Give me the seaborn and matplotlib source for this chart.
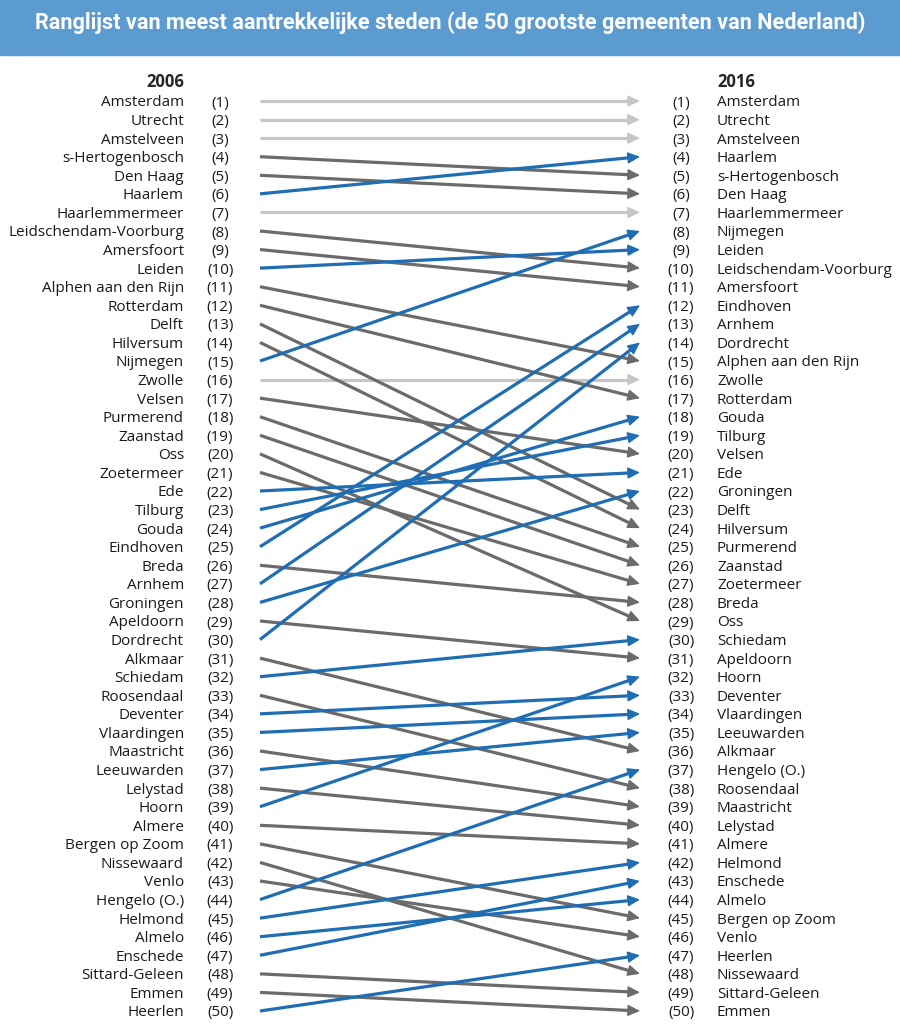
import numpy as np
import matplotlib.pyplot as plt
import pandas as pd
import seaborn as sns
from matplotlib.patches import Rectangle

titel = 'Ranglijst van meest aantrekkelijke steden (de 50 grootste gemeenten van Nederland)'
jaren = ['2006', '2016']

# ranglijst 2006 (positie = index + 1)
steden_2006 = ['Amsterdam', 'Utrecht', 'Amstelveen', 's-Hertogenbosch', 'Den Haag',
               'Haarlem', 'Haarlemmermeer', 'Leidschendam-Voorburg', 'Amersfoort', 'Leiden',
               'Alphen aan den Rijn', 'Rotterdam', 'Delft', 'Hilversum', 'Nijmegen',
               'Zwolle', 'Velsen', 'Purmerend', 'Zaanstad', 'Oss',
               'Zoetermeer', 'Ede', 'Tilburg', 'Gouda', 'Eindhoven',
               'Breda', 'Arnhem', 'Groningen', 'Apeldoorn', 'Dordrecht',
               'Alkmaar', 'Schiedam', 'Roosendaal', 'Deventer', 'Vlaardingen',
               'Maastricht', 'Leeuwarden', 'Lelystad', 'Hoorn', 'Almere',
               'Bergen op Zoom', 'Nissewaard', 'Venlo', 'Hengelo (O.)', 'Helmond',
               'Almelo', 'Enschede', 'Sittard-Geleen', 'Emmen', 'Heerlen']

# ranglijst 2016
steden_2016 = ['Amsterdam', 'Utrecht', 'Amstelveen', 'Haarlem', 's-Hertogenbosch',
               'Den Haag', 'Haarlemmermeer', 'Nijmegen', 'Leiden', 'Leidschendam-Voorburg',
               'Amersfoort', 'Eindhoven', 'Arnhem', 'Dordrecht', 'Alphen aan den Rijn',
               'Zwolle', 'Rotterdam', 'Gouda', 'Tilburg', 'Velsen',
               'Ede', 'Groningen', 'Delft', 'Hilversum', 'Purmerend',
               'Zaanstad', 'Zoetermeer', 'Breda', 'Oss', 'Schiedam',
               'Apeldoorn', 'Hoorn', 'Deventer', 'Vlaardingen', 'Leeuwarden',
               'Alkmaar', 'Hengelo (O.)', 'Roosendaal', 'Maastricht', 'Lelystad',
               'Almere', 'Helmond', 'Enschede', 'Almelo', 'Bergen op Zoom',
               'Venlo', 'Heerlen', 'Nissewaard', 'Sittard-Geleen', 'Emmen']

kleuren = {'gelijk': '#c6c6c6', 'gedaald': '#6b6b6c', 'gestegen': '#1f6db3'}
volgorde = ['gelijk', 'gedaald', 'gestegen']   # blauw bovenop tekenen

rang_2016 = {s: i + 1 for i, s in enumerate(steden_2016)}
rows = []
for i, stad in enumerate(steden_2006):
    r06 = i + 1
    r16 = rang_2016[stad]
    if r16 == r06:
        status = 'gelijk'
    elif r16 > r06:
        status = 'gedaald'
    else:
        status = 'gestegen'
    rows.append([stad, r06, r16, status])
df = pd.DataFrame(rows, columns=['stad', 'r2006', 'r2016', 'status'])

x_eind = 0.98   # schacht stopt onder de pijlpunt
start = df.assign(x=0.0, rang=df['r2006'])
eind = df.assign(x=x_eind, rang=df['r2006'] + (df['r2016'] - df['r2006']) * x_eind)
lang = pd.concat([start, eind], ignore_index=True)

sns.set_style('white')
plt.rcParams['font.family'] = ['Open Sans', 'DejaVu Sans']

W, H = 900, 1029
fig = plt.figure(figsize=(W / 100, H / 100), dpi=100)
ax = fig.add_axes([260 / W, 1 - 1011 / H, 380 / W, 910 / H])

sns.lineplot(data=lang, x='x', y='rang', hue='status', units='stad', estimator=None,
             sort=False, palette=kleuren, hue_order=volgorde, linewidth=2.3,
             legend=False, ax=ax)
for ln in ax.lines:
    ln.set_clip_on(False)
    ln.set_solid_capstyle('butt')

# pijlpunten
for status in volgorde:
    for _, r in df[df['status'] == status].iterrows():
        y0 = r['r2006'] + (r['r2016'] - r['r2006']) * 0.9
        ax.annotate('', xy=(1.0, r['r2016']), xytext=(0.9, y0),
                    arrowprops=dict(arrowstyle='-|>,head_length=0.75,head_width=0.35',
                                    color=kleuren[status], lw=1, shrinkA=0, shrinkB=0),
                    annotation_clip=False)

ax.set_xlim(0, 1)
ax.set_ylim(50, 1)
ax.axis('off')

trans = ax.get_yaxis_transform()
fs = 11
tk = '#1a1a1a'
for i, stad in enumerate(steden_2006):
    ax.text(-0.2, i + 1, stad, transform=trans, ha='right', va='center_baseline', fontsize=fs, color=tk)
    ax.text(-0.105, i + 1, '({})'.format(i + 1), transform=trans, ha='center', va='center_baseline', fontsize=fs, color=tk)
for i, stad in enumerate(steden_2016):
    ax.text(1.108, i + 1, '({})'.format(i + 1), transform=trans, ha='center', va='center_baseline', fontsize=fs, color=tk)
    ax.text(1.2026, i + 1, stad, transform=trans, ha='left', va='center_baseline', fontsize=fs, color=tk)

kop_y = 1 - 21 / (910 / 49)
ax.text(-0.2, kop_y, jaren[0], transform=trans, ha='right', va='center_baseline', fontsize=12, fontweight='bold')
ax.text(1.2026, kop_y, jaren[1], transform=trans, ha='left', va='center_baseline', fontsize=12, fontweight='bold')

# titelbalk
fig.patches.append(Rectangle((0, 1 - 55 / H), 1, 55 / H, transform=fig.transFigure,
                             color='#5b9bd0', zorder=0))
fig.text(0.5, 1 - 23 / H, titel, ha='center', va='center', color='white', fontsize=15.6,
         fontweight='bold', family=['Roboto', 'DejaVu Sans'])

fig.savefig('out.png', dpi=100)
